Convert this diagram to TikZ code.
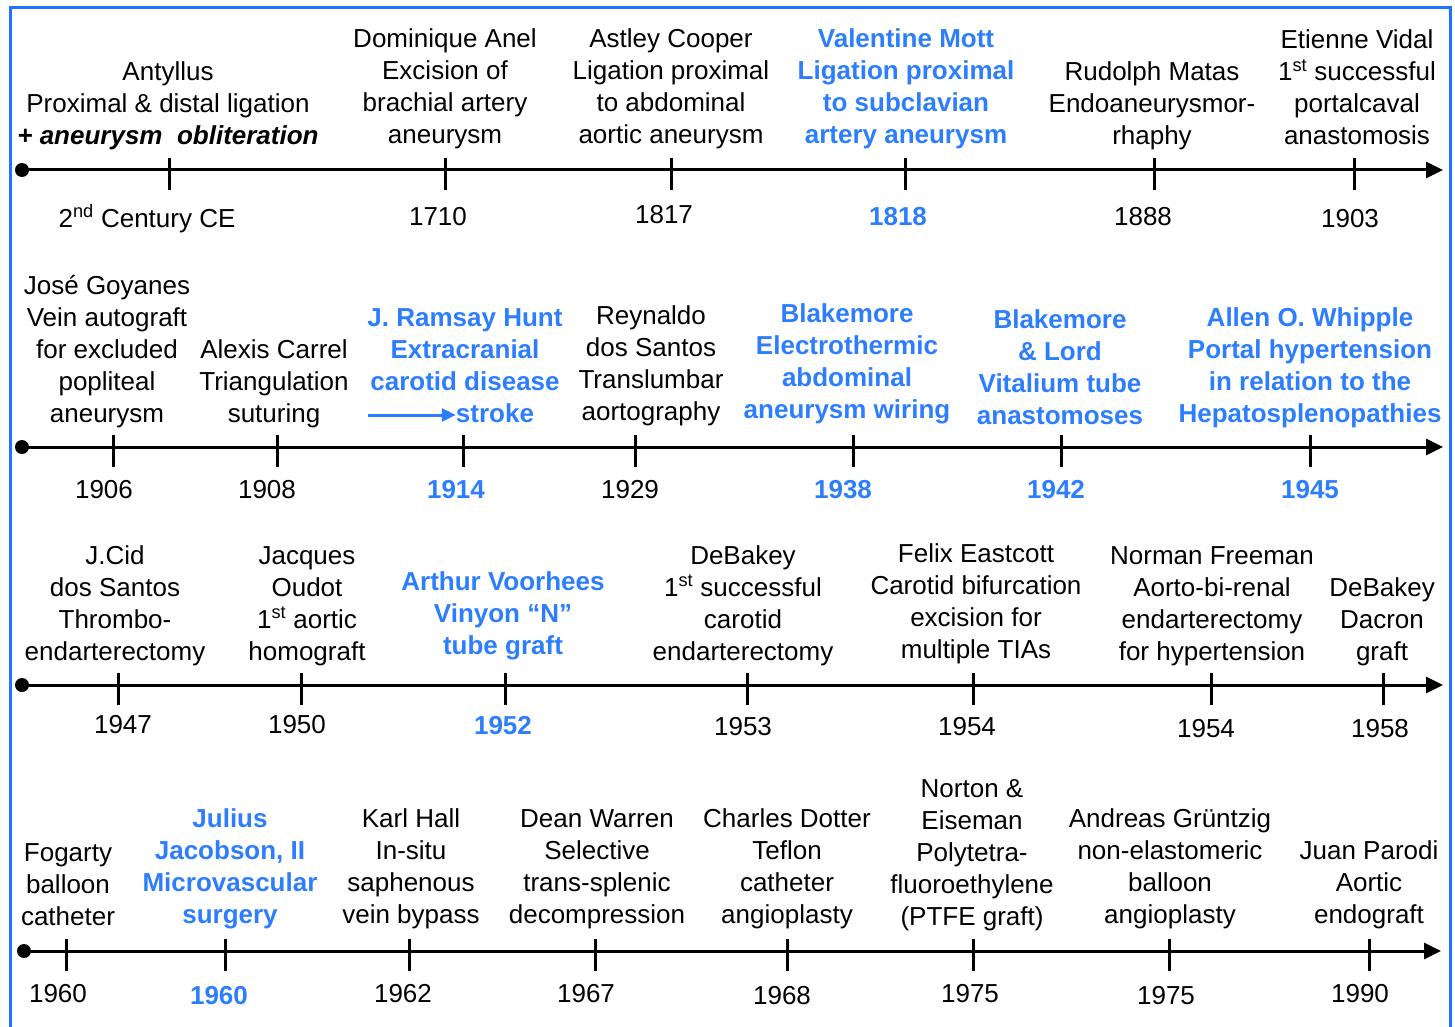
\documentclass[tikz,border=0pt]{standalone}
\usepackage{fontspec}
\setmainfont{Liberation Sans}
\usetikzlibrary{arrows.meta}
\definecolor{hotblue}{RGB}{45,125,255}
\definecolor{frameblue}{RGB}{30,115,255}
\newcommand{\evfont}{\fontsize{26}{32}\selectfont}

\begin{document}
\begin{tikzpicture}[x=1pt,y=-1pt,
  ev/.style={anchor=base,align=center,font=\evfont,inner sep=0pt},
  hot/.style={ev,text=hotblue,font=\evfont\bfseries},
  yr/.style={anchor=base,font=\evfont,inner sep=0pt},
  hotyr/.style={yr,text=hotblue,font=\evfont\bfseries},
  axis/.style={line width=3pt,-{Triangle[length=17pt,width=16pt]}},
  tick/.style={line width=3pt}]

  \useasboundingbox (0,0) rectangle (1455,1027);

  % frame
  \draw[frameblue,line width=3pt] (10,8) rectangle (1450,1060);

  % row 1  (events sit on the baseline of their last line)
  \def\ya{170};
  \coordinate (s1) at (22,\ya);
  \coordinate (e1) at (1443,\ya);
  \draw[axis] (s1) -- (e1);
  \fill (s1) circle[radius=7];
  \foreach \x in {169,445,671,905,1154,1354}
  {
       \draw[tick] (\x,\ya-12) -- (\x,\ya+20);
  }
  \node[ev] (ant) at (168,145) {Antyllus\\Proximal \& distal ligation\\\textbf{\textit{+ aneurysm\ \ obliteration}}};
  \node[ev] (anel) at (445,144) {Dominique Anel\\Excision of\\brachial artery\\aneurysm};
  \node[ev] (cooper) at (671,144) {Astley Cooper\\Ligation proximal\\to abdominal\\aortic aneurysm};
  \node[hot] (mott) at (906,144) {Valentine Mott\\Ligation proximal\\to subclavian\\artery aneurysm};
  \node[ev] (matas) at (1152,145) {Rudolph Matas\\Endoaneurysmor-\\rhaphy};
  \node[ev] (vidal) at (1357,145) {Etienne Vidal\\1\textsuperscript{st} successful\\portalcaval\\anastomosis};
  \node[yr] (y11) at (147,227) {2\textsuperscript{nd} Century CE};
  \node[yr] (y12) at (438,225) {1710};
  \node[yr] (y13) at (664,223) {1817};
  \node[hotyr] (y14) at (898,225) {1818};
  \node[yr] (y15) at (1143,225) {1888};
  \node[yr] (y16) at (1350,227) {1903};

  % row 2
  \def\ya{447};
  \coordinate (s2) at (22,\ya);
  \coordinate (e2) at (1443,\ya);
  \draw[axis] (s2) -- (e2);
  \fill (s2) circle[radius=7];
  \foreach \x in {113,277,463,635,853,1061,1310}
  {
       \draw[tick] (\x,\ya-12) -- (\x,\ya+20);
  }
  \node[ev] (goyanes) at (107,422) {José Goyanes\\Vein autograft\\for excluded\\popliteal\\aneurysm};
  \node[ev] (carrel) at (274,422) {Alexis Carrel\\Triangulation\\suturing};
  \node[hot] (hunt) at (465,390) {J. Ramsay Hunt\\Extracranial\\carotid disease};
  \node[hotyr] (stroke) at (495,422) {stroke};
  \coordinate (harr) at (368,415);
  \draw[hotblue,line width=3pt,-{Triangle[length=14pt,width=13pt]}] (harr) -- (harr -| stroke.west);
  \node[ev] (reynaldo) at (651,420) {Reynaldo\\dos Santos\\Translumbar\\aortography};
  \node[hot] (blake) at (847,418) {Blakemore\\Electrothermic\\abdominal\\aneurysm wiring};
  \node[hot] (lord) at (1060,424) {Blakemore\\\& Lord\\Vitalium tube\\anastomoses};
  \node[hot] (whipple) at (1310,422) {Allen O. Whipple\\Portal hypertension\\in relation to the\\Hepatosplenopathies};
  \node[yr] (y21) at (104,498) {1906};
  \node[yr] (y22) at (267,498) {1908};
  \node[hotyr] (y23) at (456,498) {1914};
  \node[yr] (y24) at (630,498) {1929};
  \node[hotyr] (y25) at (843,498) {1938};
  \node[hotyr] (y26) at (1056,498) {1942};
  \node[hotyr] (y27) at (1310,498) {1945};

  % row 3
  \def\ya{685};
  \coordinate (s3) at (22,\ya);
  \coordinate (e3) at (1443,\ya);
  \draw[axis] (s3) -- (e3);
  \fill (s3) circle[radius=7];
  \foreach \x in {118,301,505,747,973,1211,1383}
  {
       \draw[tick] (\x,\ya-12) -- (\x,\ya+20);
  }
  \node[ev] (cid) at (115,660) {J.Cid\\dos Santos\\Thrombo-\\endarterectomy};
  \node[ev] (oudot) at (307,660) {Jacques\\Oudot\\1\textsuperscript{st} aortic\\homograft};
  \node[hot] (voorhees) at (503,654) {Arthur Voorhees\\Vinyon “N”\\tube graft};
  \node[ev] (debakey) at (743,660) {DeBakey\\1\textsuperscript{st} successful\\carotid\\endarterectomy};
  \node[ev] (eastcott) at (976,658) {Felix Eastcott\\Carotid bifurcation\\excision for\\multiple TIAs};
  \node[ev] (freeman) at (1212,660) {Norman Freeman\\Aorto-bi-renal\\endarterectomy\\for hypertension};
  \node[ev] (dacron) at (1382,660) {DeBakey\\Dacron\\graft};
  \node[yr] (y31) at (123,733) {1947};
  \node[yr] (y32) at (297,733) {1950};
  \node[hotyr] (y33) at (503,734) {1952};
  \node[yr] (y34) at (743,735) {1953};
  \node[yr] (y35) at (967,735) {1954};
  \node[yr] (y36) at (1206,737) {1954};
  \node[yr] (y37) at (1380,737) {1958};

  % row 4
  \def\ya{951};
  \coordinate (s4) at (24,\ya);
  \coordinate (e4) at (1441,\ya);
  \draw[axis] (s4) -- (e4);
  \fill (s4) circle[radius=7];
  \foreach \x in {66,225,409,595,787,973,1169,1369}
  {
       \draw[tick] (\x,\ya-12) -- (\x,\ya+20);
  }
  \node[ev] (fogarty) at (68,925) {Fogarty\\balloon\\catheter};
  \node[hot] (jacobson) at (230,923) {Julius\\Jacobson, II\\Microvascular\\surgery};
  \node[ev] (hall) at (411,923) {Karl Hall\\In-situ\\saphenous\\vein bypass};
  \node[ev] (warren) at (597,923) {Dean Warren\\Selective\\trans-splenic\\decompression};
  \node[ev] (dotter) at (787,923) {Charles Dotter\\Teflon\\catheter\\angioplasty};
  \node[ev] (norton) at (972,925) {Norton \&\\Eiseman\\Polytetra-\\fluoroethylene\\(PTFE graft)};
  \node[ev] (gruntzig) at (1170,923) {Andreas Grüntzig\\non-elastomeric\\balloon\\angioplasty};
  \node[ev] (parodi) at (1369,923) {Juan Parodi\\Aortic\\endograft};
  \node[yr] (y41) at (58,1002) {1960};
  \node[hotyr] (y42) at (219,1004) {1960};
  \node[yr] (y43) at (403,1002) {1962};
  \node[yr] (y44) at (586,1002) {1967};
  \node[yr] (y45) at (782,1004) {1968};
  \node[yr] (y46) at (970,1002) {1975};
  \node[yr] (y47) at (1166,1004) {1975};
  \node[yr] (y48) at (1360,1002) {1990};

\end{tikzpicture}
\end{document}
